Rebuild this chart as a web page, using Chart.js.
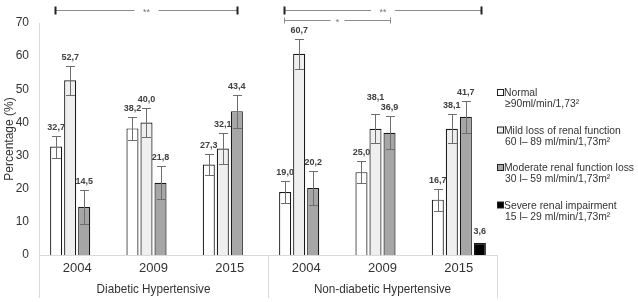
<!DOCTYPE html>
<html>
<head>
<meta charset="utf-8">
<script src="https://cdn.jsdelivr.net/npm/chart.js@4.4.0/dist/chart.umd.min.js"></script>
<style>
  html, body { margin: 0; padding: 0; background: #fff; }
  #wrap { width: 638px; height: 302px; }
</style>
</head>
<body>
<div id="wrap"><canvas id="renalChart" width="638" height="302"></canvas></div>
<script>
// categories
const years = ['2004', '2009', '2015', '2004', '2009', '2015'];
const groups = ['Diabetic Hypertensive', 'Non-diabetic Hypertensive'];
const groupSize = 3;

// percentages per renal function class
const normal   = [32.7, 38.2, 27.3, 19.0, 25.0, 16.7];
const mild     = [52.7, 40.0, 32.1, 60.7, 38.1, 38.1];
const moderate = [14.5, 21.8, 43.4, 20.2, 36.9, 41.7];
const severe   = [null, null, null, null, null, 3.6];

// error bar half-widths
const normalErr   = [3.3, 3.5, 3.2, 3.4, 3.4, 3.3];
const mildErr     = [4.4, 4.3, 4.6, 4.5, 4.4, 4.4];
const moderateErr = [5.0, 5.0, 5.0, 5.2, 4.9, 4.8];
const severeErr   = [null, null, null, null, null, null];

const yTicks = [0, 10, 20, 30, 40, 50, 60, 70];

const legendLines = [
  ['Normal', '\u226590ml/min/1,73\u00b2'],
  ['Mild loss of renal function', '60 l\u2013 89 ml/min/1,73m\u00b2'],
  ['Moderate renal function loss', '30 l\u2013 59 ml/min/1,73m\u00b2'],
  ['Severe renal impairment', '15 l\u2013 29 ml/min/1,73m\u00b2']
];

// significance brackets: from/to category index, row, marker
const bracketFrom  = [0, 3, 3];
const bracketTo    = [2, 5, 4];
const bracketRow   = [0, 0, 1];
const bracketMark  = ['**', '**', '*'];

const FONT = "'Liberation Sans', Arial, sans-serif";
Chart.defaults.font.family = FONT;
Chart.defaults.color = '#333';

const fills = ['#ffffff', '#efefef', '#a6a6a6', '#000000'];
const errs = [normalErr, mildErr, moderateErr, severeErr];
// extra lift (px) for labels nudged up to avoid overlapping, keyed dataset-index
const labelLift = { '1-4': 8 };

function fmt(v) {
  return v.toFixed(1).replace('.', ',');
}

const extrasPlugin = {
  id: 'extras',
  afterDatasetsDraw(chart) {
    const ctx = chart.ctx;
    const y = chart.scales.y;
    ctx.save();
    // error bars + value labels
    chart.data.datasets.forEach((ds, di) => {
      const meta = chart.getDatasetMeta(di);
      meta.data.forEach((bar, i) => {
        const v = ds.data[i];
        if (v === null || v === undefined) return;
        const e = errs[di][i];
        let topVal = v;
        if (e) {
          const yt = Math.round(y.getPixelForValue(v + e)) + 0.5;
          const yb = Math.round(y.getPixelForValue(v - e)) + 0.5;
          const x = Math.round(bar.x) + 0.5;
          ctx.strokeStyle = '#6e6e6e';
          ctx.lineWidth = 1;
          ctx.beginPath();
          ctx.moveTo(x, yt); ctx.lineTo(x, yb);
          ctx.moveTo(x - 4.5, yt); ctx.lineTo(x + 4.5, yt);
          ctx.moveTo(x - 4.5, yb); ctx.lineTo(x + 4.5, yb);
          ctx.stroke();
          topVal = v + e;
        }
        const lift = labelLift[di + '-' + i] || 0;
        ctx.fillStyle = '#404040';
        ctx.font = 'bold 9px ' + FONT;
        ctx.textAlign = 'center';
        ctx.textBaseline = 'bottom';
        ctx.fillText(fmt(v), bar.x, y.getPixelForValue(topVal) - (e ? 4 : 7) - lift);
      });
    });
    ctx.restore();
  },
  afterDraw(chart) {
    const ctx = chart.ctx;
    const x = chart.scales.x;
    const area = chart.chartArea;
    ctx.save();

    // group separators and group names
    const step = (area.right - area.left) / years.length;
    ctx.strokeStyle = '#d9d9d9';
    ctx.lineWidth = 1;
    for (let g = 0; g <= groups.length; g++) {
      const px = Math.round(area.left + g * groupSize * step) + 0.5;
      ctx.beginPath();
      ctx.moveTo(px, area.bottom);
      ctx.lineTo(px, 298);
      ctx.stroke();
    }
    ctx.fillStyle = '#333';
    ctx.font = '13px ' + FONT;
    ctx.textAlign = 'center';
    ctx.textBaseline = 'alphabetic';
    groups.forEach((name, g) => {
      const cx = area.left + (g + 0.5) * groupSize * step;
      ctx.save();
      ctx.translate(cx, 293);
      ctx.scale(0.9, 1);
      ctx.fillText(name, 0, 0);
      ctx.restore();
    });

    // significance brackets
    bracketFrom.forEach((f, k) => {
      const x1 = Math.round(x.getPixelForValue(f) - 22) + 0.5;
      const x2 = Math.round(x.getPixelForValue(bracketTo[k]) + (bracketTo[k] - f > 1 && f > 0 ? 22 : 7)) + 0.5;
      const yy = bracketRow[k] === 0 ? 10.5 : 20.5;
      const mid = (x1 + x2) / 2;
      const gap = bracketRow[k] === 0 ? 12 : 7;
      ctx.strokeStyle = '#8c8c8c';
      ctx.lineWidth = 1;
      ctx.beginPath();
      ctx.moveTo(x1, yy); ctx.lineTo(mid - gap, yy);
      ctx.moveTo(mid + gap, yy); ctx.lineTo(x2, yy);
      ctx.stroke();
      if (bracketRow[k] === 0) {
        ctx.strokeStyle = '#222';
        ctx.lineWidth = 2;
        ctx.beginPath();
        ctx.moveTo(x1, yy - 4); ctx.lineTo(x1, yy + 4);
        ctx.moveTo(x2, yy - 4); ctx.lineTo(x2, yy + 4);
        ctx.stroke();
      } else {
        ctx.beginPath();
        ctx.moveTo(x1, yy - 3); ctx.lineTo(x1, yy + 3);
        ctx.moveTo(x2, yy - 3); ctx.lineTo(x2, yy + 3);
        ctx.stroke();
      }
      ctx.fillStyle = '#777';
      ctx.font = '9px ' + FONT;
      ctx.textAlign = 'center';
      ctx.textBaseline = 'middle';
      ctx.fillText(bracketMark[k], mid, yy + 2);
    });

    // legend with two-line entries
    const lx = 497;
    const ly0 = 96;
    const lstep = 37.5;
    legendLines.forEach((lines, k) => {
      const by = ly0 + k * lstep;
      ctx.fillStyle = fills[k];
      ctx.fillRect(lx + 0.5, by - 6.5, 6, 6);
      ctx.strokeStyle = '#222';
      ctx.lineWidth = 1;
      ctx.strokeRect(lx + 0.5, by - 6.5, 6, 6);
      ctx.fillStyle = '#333';
      ctx.font = '11.5px ' + FONT;
      ctx.textAlign = 'left';
      ctx.textBaseline = 'alphabetic';
      lines.forEach((t, j) => {
        ctx.save();
        ctx.translate(lx + (j === 0 ? 7 : 8), by + j * 11);
        ctx.scale(0.9, 1);
        ctx.fillText(t, 0, 0);
        ctx.restore();
      });
    });
    ctx.restore();
  }
};

const seriesLabels = ['Normal', 'Mild loss of renal function', 'Moderate renal function loss', 'Severe renal impairment'];
const seriesData = [normal, mild, moderate, severe];

new Chart(document.getElementById('renalChart'), {
  type: 'bar',
  data: {
    labels: years,
    datasets: seriesData.map((d, i) => ({
      label: seriesLabels[i],
      data: d,
      backgroundColor: fills[i],
      borderColor: '#1a1a1a',
      borderWidth: 1.2,
      borderSkipped: 'bottom',
      categoryPercentage: 0.735,
      barPercentage: 0.86
    }))
  },
  options: {
    responsive: false,
    animation: false,
    devicePixelRatio: 1,
    layout: { padding: { top: 23, right: 141, left: 0, bottom: 0 } },
    plugins: {
      legend: { display: false },
      tooltip: { enabled: false }
    },
    scales: {
      x: {
        grid: { display: false, drawTicks: false },
        border: { display: true, color: '#d9d9d9', width: 1 },
        ticks: { padding: 6, color: '#333', font: { size: 13 } },
        afterFit(scale) { scale.height = 47; }
      },
      y: {
        min: 0,
        max: 70,
        afterBuildTicks(scale) { scale.ticks = yTicks.map(v => ({ value: v })); },
        grid: { display: false, drawTicks: false },
        border: { display: true, color: '#d9d9d9', width: 1 },
        ticks: { padding: 10, color: '#333', font: { size: 12 } },
        title: { display: true, text: 'Percentage (%)', color: '#333', font: { size: 12 }, padding: { top: 2, bottom: 0 } },
        afterFit(scale) { scale.width = 39; }
      }
    }
  },
  plugins: [extrasPlugin]
});
</script>
</body>
</html>
